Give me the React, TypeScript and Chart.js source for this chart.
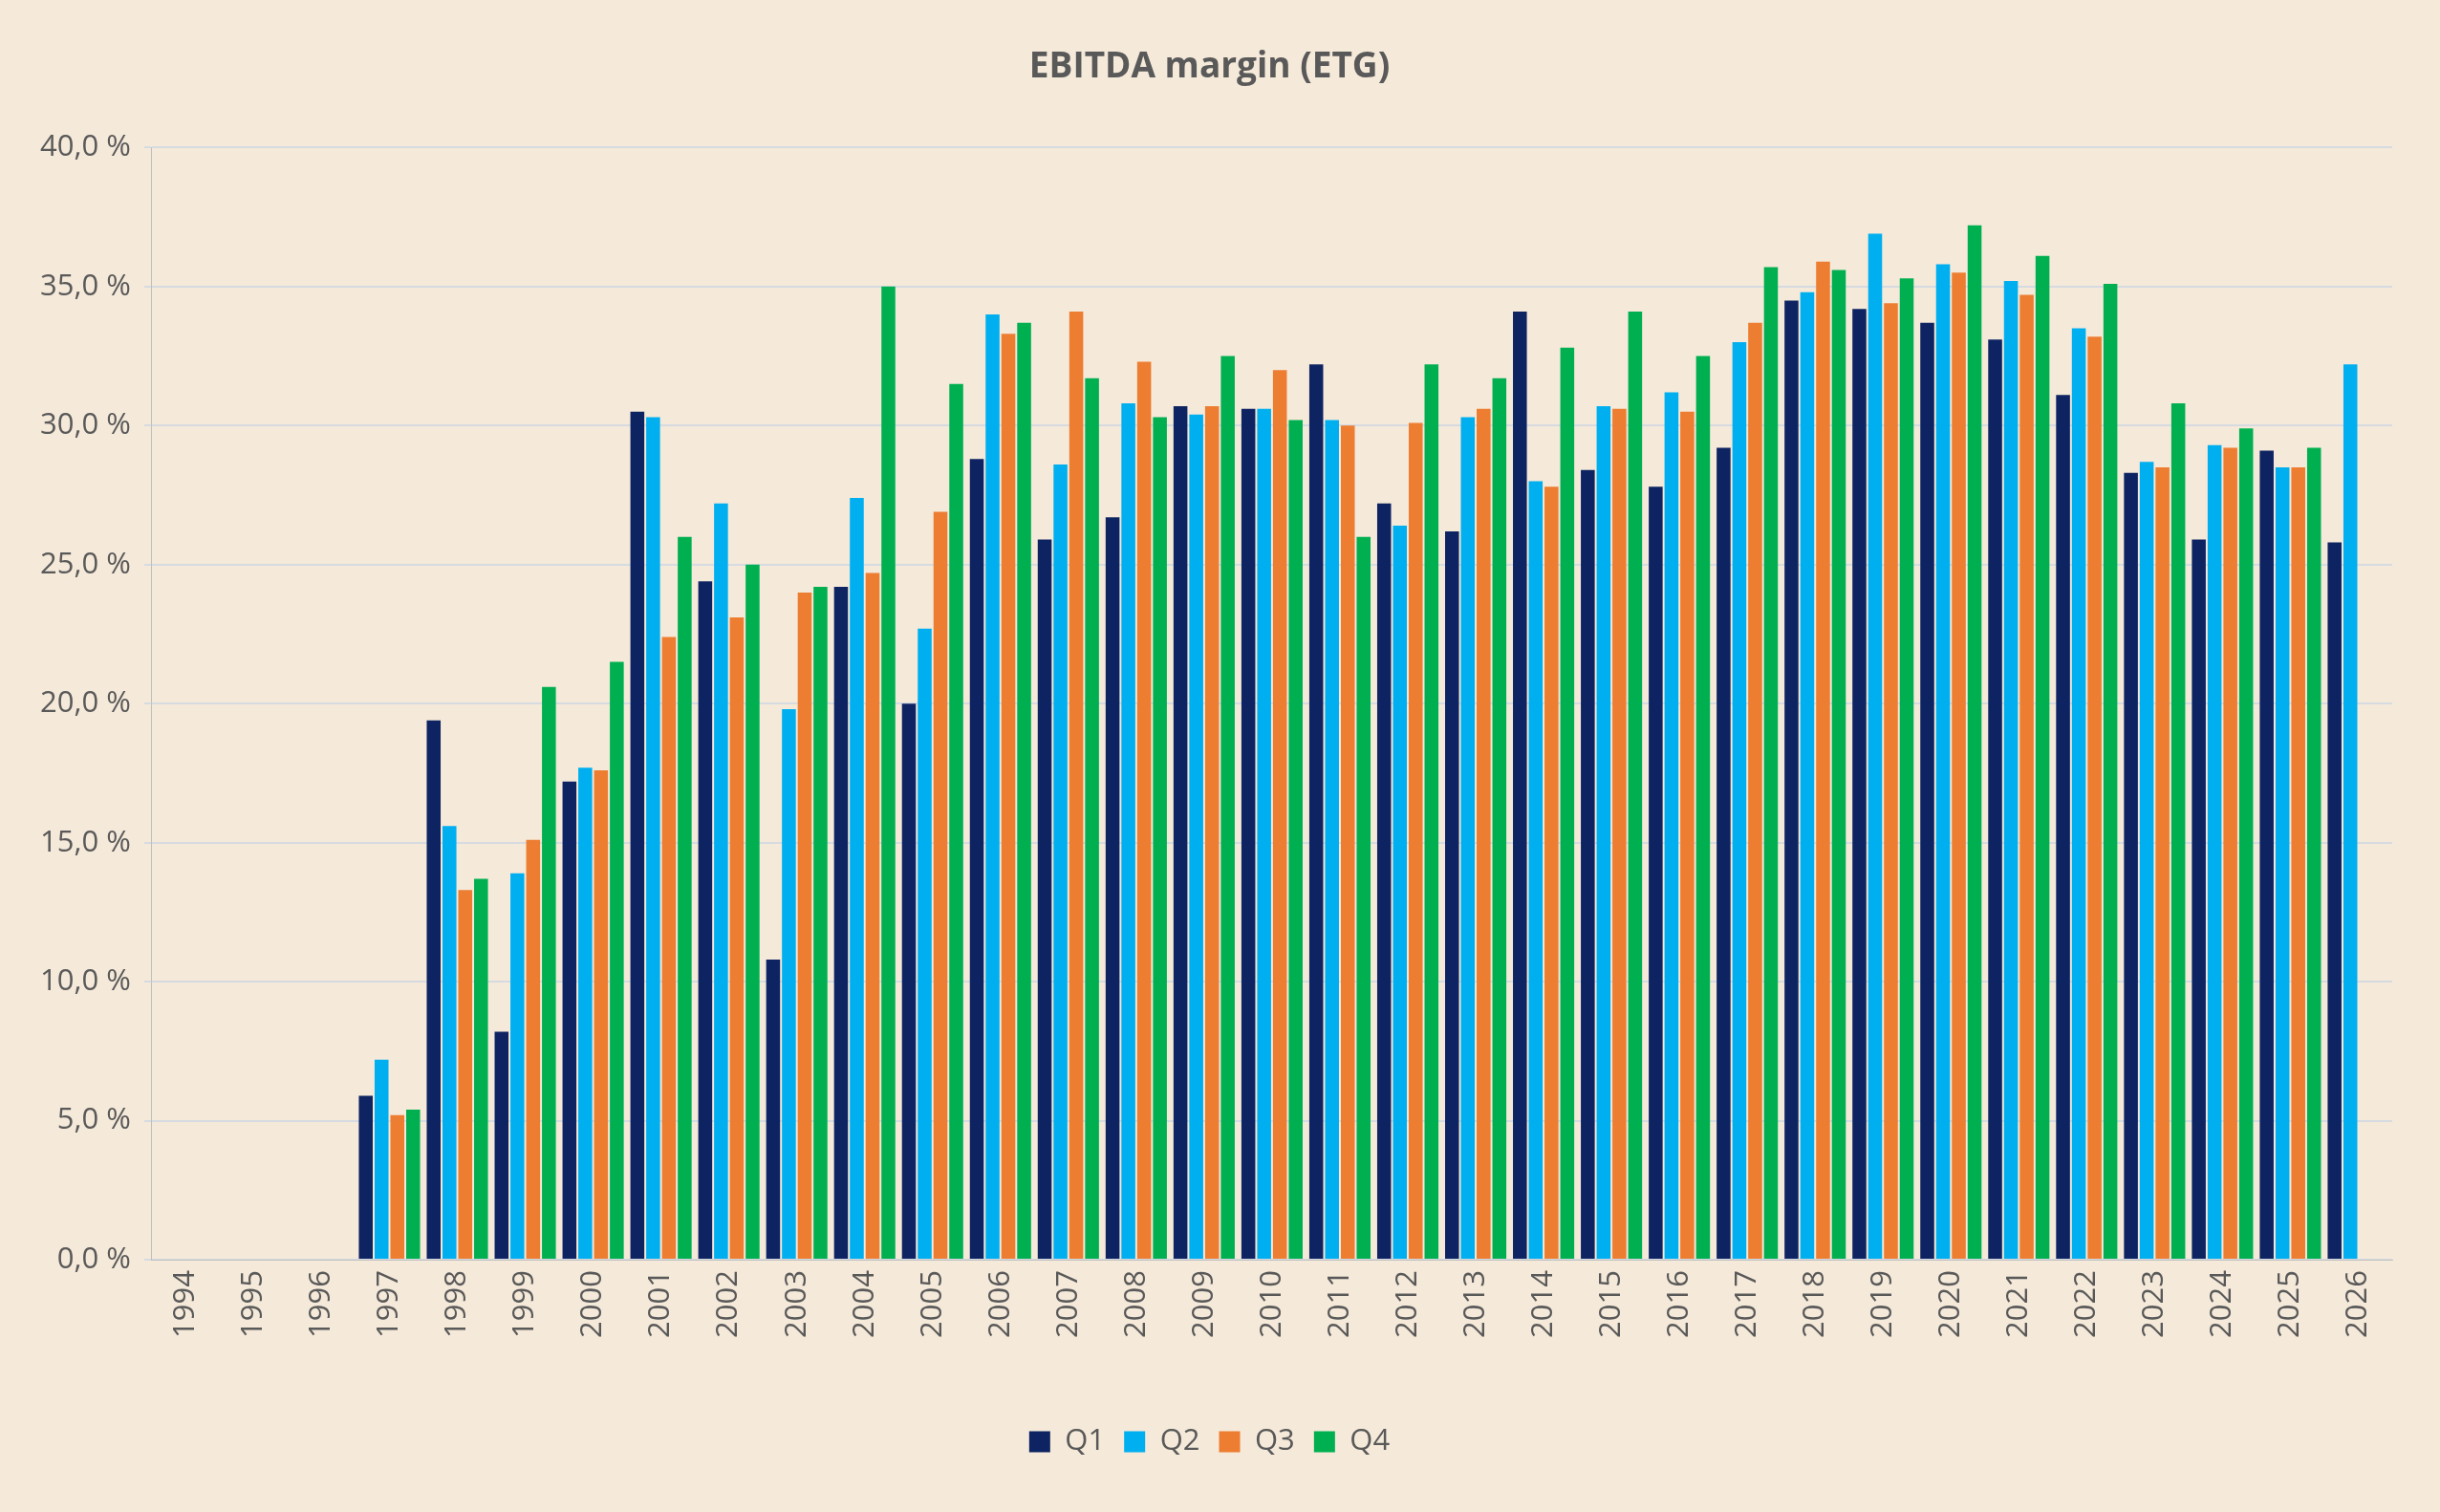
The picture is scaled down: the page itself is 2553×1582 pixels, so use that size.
import React, { useEffect, useRef } from "react";
import { Chart, registerables } from "chart.js";
Chart.register(...registerables);

const years = ["1994","1995","1996","1997","1998","1999","2000","2001","2002","2003","2004","2005","2006","2007","2008","2009","2010","2011","2012","2013","2014","2015","2016","2017","2018","2019","2020","2021","2022","2023","2024","2025","2026"];
const q1 = [null,null,null,5.9,19.4,8.2,17.2,30.5,24.4,10.8,24.2,20.0,28.8,25.9,26.7,30.7,30.6,32.2,27.2,26.2,34.1,28.4,27.8,29.2,34.5,34.2,33.7,33.1,31.1,28.3,25.9,29.1,25.8];
const q2 = [null,null,null,7.2,15.6,13.9,17.7,30.3,27.2,19.8,27.4,22.7,34.0,28.6,30.8,30.4,30.6,30.2,26.4,30.3,28.0,30.7,31.2,33.0,34.8,36.9,35.8,35.2,33.5,28.7,29.3,28.5,32.2];
const q3 = [null,null,null,5.2,13.3,15.1,17.6,22.4,23.1,24.0,24.7,26.9,33.3,34.1,32.3,30.7,32.0,30.0,30.1,30.6,27.8,30.6,30.5,33.7,35.9,34.4,35.5,34.7,33.2,28.5,29.2,28.5,null];
const q4 = [null,null,null,5.4,13.7,20.6,21.5,26.0,25.0,24.2,35.0,31.5,33.7,31.7,30.3,32.5,30.2,26.0,32.2,31.7,32.8,34.1,32.5,35.7,35.6,35.3,37.2,36.1,35.1,30.8,29.9,29.2,null];
const seriesNames = ["Q1","Q2","Q3","Q4"];
const colors = ["#0e2462","#00aff0","#ed7d31","#00b050"];

export default function App() {
  const ref = useRef<HTMLCanvasElement>(null);
  useEffect(() => {
    document.body.style.margin = "0";
    const font = "'Open Sans', 'Liberation Sans', sans-serif";
    const data = [q1, q2, q3, q4];
    const chart = new Chart(ref.current!, {
      type: "bar",
      data: {
        labels: years,
        datasets: data.map((d, i) => ({
          label: seriesNames[i], data: d, backgroundColor: colors[i],
          categoryPercentage: 0.93, barPercentage: 0.88,
        })),
      },
      options: {
        animation: false, responsive: false,
        layout: { padding: { left: 28, right: 50, top: 28, bottom: 48 } },
        plugins: {
          title: { display: true, text: "EBITDA margin (ETG)", color: "#595959", font: { family: font, size: 37, weight: "bold" }, padding: { top: 20, bottom: 62 } },
          legend: { position: "bottom", labels: { color: "#595959", font: { family: font, size: 31 }, boxWidth: 22, boxHeight: 22, padding: 20 } },
          tooltip: { enabled: false },
        },
        scales: {
          x: {
            grid: { display: false },
            border: { color: "#bfbfbf" },
            ticks: { color: "#595959", font: { family: font, size: 31 }, minRotation: 90, maxRotation: 90 },
            afterFit: (s: any) => { s.height += 70; },
          },
          y: {
            min: 0, max: 40,
            grid: { color: "#d6dbe1", lineWidth: 2 },
            border: { display: true, color: "#bfbfbf" },
            ticks: { stepSize: 5, color: "#595959", font: { family: font, size: 31 }, padding: 14,
              callback: (v: any) => Number(v).toFixed(1).replace(".", ",") + " %" },
          },
        },
      },
    });
    return () => chart.destroy();
  }, []);
  return (
    <div style={{ width: 2553, height: 1582, background: "#f5e9d9" }}>
      <canvas ref={ref} width={2553} height={1582} />
    </div>
  );
}
